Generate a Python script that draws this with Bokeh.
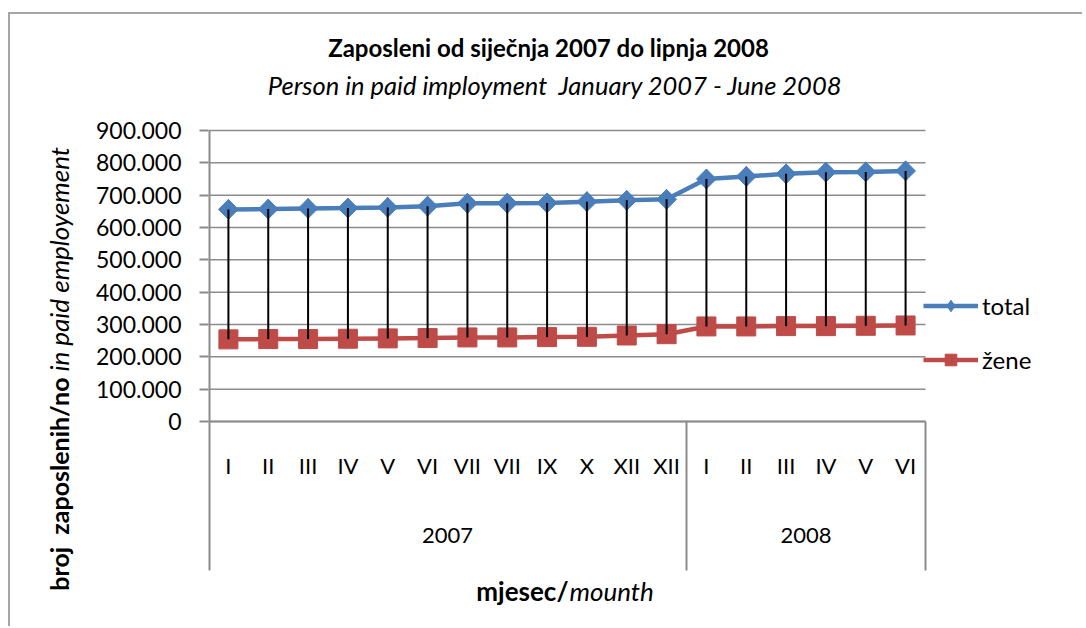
import numpy as np
from bokeh.plotting import figure
from bokeh.layouts import row
from bokeh.models import Range1d, FixedTicker, Legend, LegendItem
from bokeh.core.properties import value
from bokeh.embed import file_html
from bokeh.resources import INLINE

# ---- data ----
years = ["2007"] * 12 + ["2008"] * 6
months = ["I", "II", "III", "IV", "V", "VI", "VII", "VII", "IX", "X", "XII", "XII",
          "I", "II", "III", "IV", "V", "VI"]
total = [656000, 657000, 659000, 660000, 662000, 666000, 675000, 675000, 676000,
         680000, 684000, 687000, 750000, 758000, 766000, 771000, 772000, 775000]
zene = [254000, 255000, 255000, 256000, 257000, 258000, 260000, 260000, 261000,
        262000, 266000, 270000, 294000, 294000, 295000, 295000, 296000, 297000]
y_ticks = [0, 100000, 200000, 300000, 400000, 500000, 600000, 700000, 800000, 900000]
series_names = ["total", "žene"]
title_text = "Zaposleni od siječnja 2007 do lipnja 2008"
subtitle_text = "Person in paid imployment\u00a0 January 2007 - June 2008"
ylabel_bold = "broj\u00a0 zaposlenih/no"
ylabel_italic = "in paid employement"
xlabel_bold = "mjesec/"
xlabel_italic = "mounth"

FONT = "Lato"
BLUE = "#4A7EBB"
RED = "#BE4B48"
GRID = "#8C8C8C"

# ---- layout (page pixels) ----
OX, OY = 10, 14            # content origin (inside border)
LEFT_W = 70                # width of y-label strip
FL, FR = 208, 1082         # frame left / right
FT, FB = 14, 626           # frame top / bottom
PLOT_R = 925               # right end of plotting area
Y0_PX, YMAX_PX = 421, 130  # pixel rows of 0 and of the top tick
AX_BOT = 570               # bottom of category axis
n = len(months)
CAT_PX = (PLOT_R - FL) / n
VAL_PX = y_ticks[-1] / (Y0_PX - YMAX_PX)


def dx(px):
    return -0.5 + (px - FL) / CAT_PX


def dy(py):
    return (Y0_PX - py) * VAL_PX


X_END = n - 0.5
Y_AXB = dy(AX_BOT)

x = np.arange(n)
p = figure(width=FR - OX - LEFT_W, height=FB - FT,
           x_range=Range1d(dx(FL), dx(FR)), y_range=Range1d(dy(FB), dy(FT)),
           min_border_left=FL - OX - LEFT_W, min_border_top=0, min_border_right=0,
           min_border_bottom=0, x_axis_location=None,
           output_backend="svg", toolbar_location=None)
p.outline_line_color = None
p.background_fill_color = "white"
p.border_fill_color = "white"
p.grid.visible = False

p.yaxis.ticker = FixedTicker(ticks=y_ticks)
p.yaxis.major_label_overrides = {t: ("0" if t == 0 else f"{t:,}".replace(",", ".")) for t in y_ticks}
p.yaxis.minor_tick_line_color = None
p.yaxis.major_tick_in = 0
p.yaxis.major_tick_out = 9
p.yaxis.major_tick_line_color = GRID
p.yaxis.major_tick_line_width = 2
p.yaxis.axis_line_color = None
p.yaxis.major_label_standoff = 18
p.yaxis.major_label_text_font = FONT
p.yaxis.major_label_text_font_size = "23px"
p.yaxis.major_label_text_color = "black"

# gridlines (value axis) ending at the plot area's right edge
p.segment(x0=[-0.5] * len(y_ticks), y0=y_ticks, x1=[X_END] * len(y_ticks), y1=y_ticks,
          line_color=GRID, line_width=1.5)
# value axis line, category axis line and group separators
p.segment(x0=[-0.5], y0=[Y_AXB], x1=[-0.5], y1=[y_ticks[-1]], line_color=GRID, line_width=4)
p.segment(x0=[-0.5], y0=[0], x1=[X_END], y1=[0], line_color=GRID, line_width=2)
bounds = [i - 0.5 for i in range(1, n) if years[i] != years[i - 1]] + [X_END]
p.segment(x0=bounds, y0=[0] * len(bounds), x1=bounds, y1=[Y_AXB] * len(bounds),
          line_color=GRID, line_width=2)

# series
l1 = p.line(x, total, line_color=BLUE, line_width=4.5)
# diamond markers (the plain diamond also serves as the legend key)
s1_key = p.scatter(x, total, marker="diamond", size=20, fill_color=BLUE, line_color=BLUE)
s1 = p.scatter(x, total, marker="square", angle=np.pi / 4, size=14,
               fill_color=BLUE, line_color=BLUE)
l2 = p.line(x, zene, line_color=RED, line_width=4.5)
s2 = p.scatter(x, zene, marker="square", size=19, fill_color=RED, line_color=RED)

# high-low lines
p.segment(x0=x, y0=zene, x1=x, y1=total, line_color="black", line_width=2)

# category labels (months, then years)
p.text(x=x, y=[dy(465)] * n, text=months, text_align="center", text_baseline="middle",
       text_font=value(FONT), text_font_size="22px", text_color="black")
uy = sorted(set(years))
yc = [float(np.mean([i for i, yy in enumerate(years) if yy == g])) for g in uy]
p.text(x=yc, y=[dy(535)] * len(yc), text=uy, text_align="center", text_baseline="middle",
       text_font=value(FONT), text_font_size="22px", text_color="black")


def txt(f, tx, xx, yy, size, style="normal", align="center", angle=0.0):
    f.text(x=[xx], y=[yy], text=[tx], text_font=value(FONT), text_font_size=size,
           text_font_style=style, text_align=align, text_baseline="middle",
           text_color="black", angle=angle)


# titles and category-axis title
txt(p, title_text, dx(548), dy(47), "24px", style="bold")
txt(p, subtitle_text, dx(555), dy(84), "25.5px", style="italic")
txt(p, xlabel_bold, dx(568), dy(590), "26px", style="bold", align="right")
txt(p, xlabel_italic, dx(569), dy(590), "26px", style="italic", align="left")

legend = Legend(items=[LegendItem(label=series_names[0], renderers=[l1, s1_key]),
                       LegendItem(label=series_names[1], renderers=[l2, s2])],
                location=(923 - FL, FB - 373.5), orientation="vertical",
                glyph_width=55, glyph_height=29, label_height=29, spacing=25,
                padding=0, margin=0, border_line_color=None, background_fill_alpha=0,
                label_standoff=4, label_text_font=FONT, label_text_font_size="24px",
                label_text_color="black")
p.add_layout(legend)

# ---- value-axis title strip ----
left = figure(width=LEFT_W, height=FB - FT, x_range=Range1d(0, LEFT_W),
              y_range=Range1d(0, FB - FT), min_border=0,
              x_axis_location=None, y_axis_location=None,
              output_backend="svg", toolbar_location=None)
left.grid.visible = False
left.outline_line_color = None
left.background_fill_color = "white"
left.border_fill_color = "white"
txt(left, ylabel_bold, 58 - OX, FB - 377, "25px", style="bold", align="right", angle=np.pi / 2)
txt(left, ylabel_italic, 58 - OX, FB - 371, "26px", style="italic", align="left", angle=np.pi / 2)

layout = row(left, p, spacing=0)
layout.styles = {"border-top": "2px solid #a6a6a6", "border-left": "2px solid #a6a6a6",
                 "margin-top": "12px", "margin-left": "8px"}

open("out.html", "w").write(file_html(layout, INLINE))
